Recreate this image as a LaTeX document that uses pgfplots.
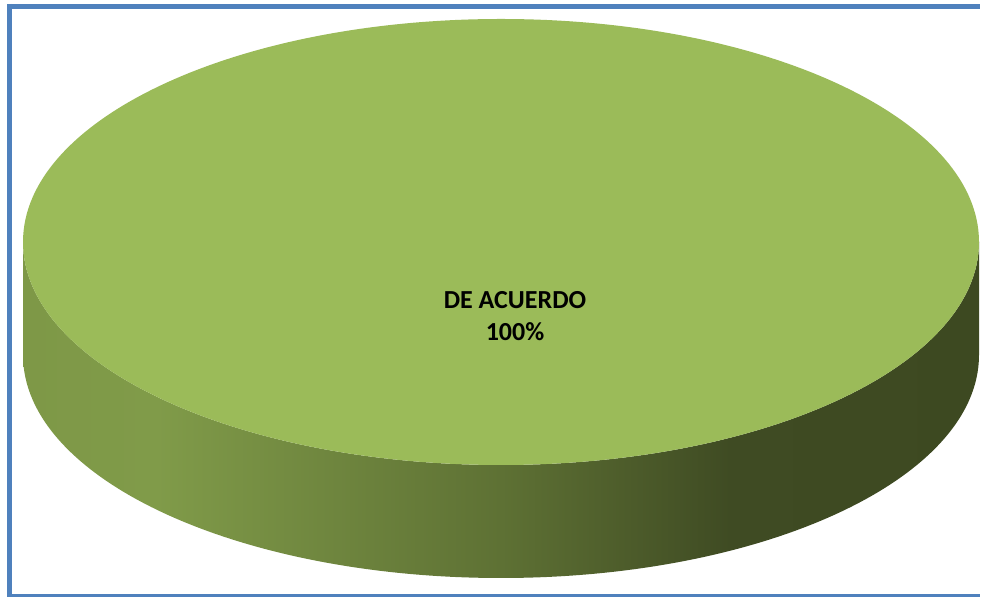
\documentclass[border=0pt]{standalone}
\usepackage{pgfplots}
\pgfplotsset{compat=1.18}
\usepackage{fontspec}
\setmainfont{Carlito}

\definecolor{topgreen}{HTML}{9BBB59}
\definecolor{sideA}{HTML}{7E9847}
\definecolor{sideB}{HTML}{809B49}
\definecolor{sideC}{HTML}{5E7134}
\definecolor{sideD}{HTML}{3F4B23}
\definecolor{sideE}{HTML}{3D4921}
\definecolor{frameblue}{HTML}{4F81BD}

% 25bp = left edge of the path, 75bp = right edge
\pgfdeclarehorizontalshading{pieside}{100bp}{%
  color(0bp)=(sideA); color(25bp)=(sideA); color(32bp)=(sideB);
  color(50bp)=(sideC); color(62bp)=(sideD); color(75bp)=(sideE);
  color(100bp)=(sideE)}

\begin{document}
\begin{tikzpicture}
\begin{axis}[
    width=984bp, height=597bp,
    scale only axis,
    xmin=0, xmax=984,
    ymin=0, ymax=597,
    hide axis,
    clip=true,
    /pgf/number format/assume math mode=true,
]
% frame (right side lies outside the picture)
\draw[frameblue, line width=5bp, line cap=butt]
    (axis cs:7,590.5) -- (axis cs:980,590.5);
\draw[frameblue, line width=5bp, line cap=butt]
    (axis cs:7,0.5) -- (axis cs:980,0.5);
\draw[frameblue, line width=5bp, line cap=butt]
    (axis cs:9.5,593) -- (axis cs:9.5,-2);

% side of the disc
\path[shading=pieside]
    (axis cs:23,355) -- (axis cs:23,242)
    arc[start angle=180, end angle=360, x radius=478bp, y radius=223bp]
    -- (axis cs:979,355)
    arc[start angle=0, end angle=-180, x radius=478bp, y radius=223bp]
    -- cycle;

% top face (one slice, 100%)
\fill[topgreen] (axis cs:501,355) ellipse [x radius=478bp, y radius=223bp];

% label from the data
\addplot[draw=none, mark=none,
    point meta=explicit,
    nodes near coords={DE ACUERDO\\\pgfmathprintnumber{\pgfplotspointmeta}\%},
    every node near coord/.append style={anchor=center, align=center,
        font=\fontsize{26bp}{32bp}\selectfont\bfseries, text=black},
] coordinates {(515,281) [100]};
\end{axis}
\pgfresetboundingbox
\path (current axis.south west) rectangle (current axis.north east);
\end{tikzpicture}
\end{document}
